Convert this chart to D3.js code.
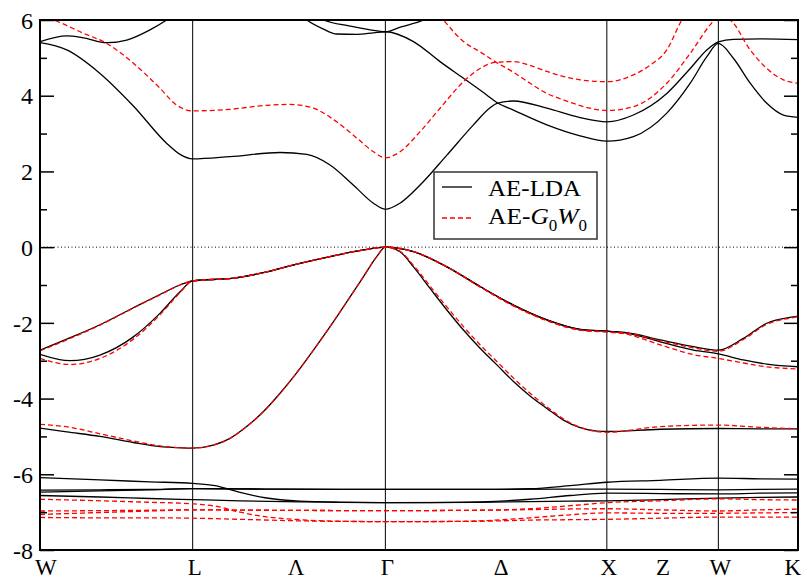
<!DOCTYPE html>
<html><head><meta charset="utf-8">
<script src="https://cdnjs.cloudflare.com/ajax/libs/d3/7.8.5/d3.min.js"></script>
<style>
body{margin:0;background:#fff}
svg{display:block}
</style>
</head><body>
<svg id="c" width="803" height="579"></svg>
<script>
// ---------- data ----------
const symK = [0, 0.690, 1.561, 2.562, 3.066, 3.426];          // W L Γ X W K
const kLabels = ["W", "L", "Λ", "Γ", "Δ", "X", "Z", "W", "K"];
const kLabelPos = [0, 0.690, 1.148, 1.561, 2.075, 2.562, 2.807, 3.066, 3.426];
const yMajor = [-8, -6, -4, -2, 0, 2, 4, 6];
const yMinor = [-7, -5, -3, -1, 1, 3, 5];
const legendLabels = ["AE-LDA", "AE-G0W0"];

// LDA (black) bands: [k, E]
const ldaV1 = [[0,-4.78],[0.121,-4.88],[0.271,-5.0],[0.422,-5.16],[0.542,-5.27],[0.633,-5.30],[0.690,-5.31],
 [0.783,-5.23],[0.859,-5.05],[0.934,-4.74],[1.009,-4.35],[1.085,-3.86],[1.160,-3.32],[1.236,-2.72],[1.311,-2.10],[1.387,-1.44],[1.462,-0.78],[1.522,-0.25],[1.561,0],
 [1.627,-0.12],[1.688,-0.52],[1.763,-1.09],[1.839,-1.66],[1.914,-2.19],[1.989,-2.67],[2.065,-3.11],[2.140,-3.55],[2.215,-3.93],[2.291,-4.26],[2.366,-4.57],[2.441,-4.77],[2.517,-4.86],[2.562,-4.87],
 [2.803,-4.81],[3.066,-4.79],[3.255,-4.80],[3.426,-4.80]];
const ldaV2 = [[0,-2.83],[0.136,-3.0],[0.271,-2.85],[0.422,-2.37],[0.542,-1.75],[0.633,-1.18],[0.690,-0.89],
 [0.874,-0.82],[1.009,-0.675],[1.160,-0.45],[1.311,-0.25],[1.462,-0.075],[1.561,0],
 [1.688,-0.12],[1.839,-0.52],[1.989,-1.04],[2.140,-1.53],[2.291,-1.92],[2.441,-2.17],[2.562,-2.22],
 [2.652,-2.27],[2.803,-2.50],[2.954,-2.72],[3.066,-2.82],[3.179,-2.98],[3.285,-3.09],[3.426,-3.16]];
const ldaV3 = [[0,-2.72],[0.121,-2.43],[0.271,-2.05],[0.422,-1.60],[0.542,-1.25],[0.633,-1.00],[0.690,-0.89],
 [0.874,-0.82],[1.009,-0.675],[1.160,-0.45],[1.311,-0.25],[1.462,-0.075],[1.561,0],
 [1.688,-0.12],[1.839,-0.52],[1.989,-1.04],[2.140,-1.53],[2.291,-1.92],[2.441,-2.17],[2.562,-2.22],
 [2.652,-2.26],[2.803,-2.45],[2.954,-2.63],[3.066,-2.72],[3.179,-2.41],[3.285,-2.01],[3.405,-1.84],[3.426,-1.82]];
const ldaC1 = [[0,5.40],[0.121,5.21],[0.271,4.59],[0.422,3.73],[0.573,2.74],[0.633,2.45],[0.690,2.33],
 [0.859,2.39],[1.085,2.50],[1.206,2.45],[1.311,2.17],[1.416,1.64],[1.507,1.16],[1.561,1.0],
 [1.627,1.16],[1.718,1.64],[1.839,2.43],[1.959,3.23],[2.034,3.68],[2.065,3.80],[2.140,3.86],[2.291,3.67],[2.441,3.42],[2.562,3.31],
 [2.682,3.49],[2.833,4.06],[2.939,4.72],[3.014,5.21],[3.066,5.42],[3.134,5.49],[3.255,5.50],[3.426,5.48]];
const ldaC2 = [[0,5.43],[0.121,5.58],[0.196,5.53],[0.302,5.40],[0.392,5.47],[0.497,5.74],[0.573,6.0],[0.690,6.5],[0.949,6.8],[1.130,6.4],
 [1.206,6.0],[1.281,5.76],[1.341,5.63],[1.432,5.62],[1.507,5.66],[1.561,5.69],
 [1.688,5.43],[1.808,4.90],[1.914,4.46],[2.019,4.02],[2.065,3.82],[2.140,3.62],[2.291,3.23],[2.441,2.94],[2.562,2.80],
 [2.682,2.92],[2.833,3.54],[2.939,4.33],[3.014,5.03],[3.066,5.38],[3.134,4.99],[3.210,4.33],[3.285,3.80],[3.360,3.49],[3.426,3.43]];
const ldaC3 = [[0,7.0],[0.690,7.5],[1.130,6.6],[1.281,6.0],[1.401,5.84],[1.492,5.74],[1.561,5.69],[1.632,5.82],[1.733,6.0],[1.854,6.5],[2.562,7.5],[3.066,7.0],[3.426,7.2]];
const ldaD1 = [[0,-6.09],[0.271,-6.15],[0.497,-6.20],[0.690,-6.24],[0.791,-6.30],[0.904,-6.48],[1.017,-6.62],[1.175,-6.71],[1.356,-6.74],[1.561,-6.75],[1.763,-6.75],[1.989,-6.73],[2.215,-6.66],[2.396,-6.56],[2.562,-6.50],[2.803,-6.51],[3.066,-6.52],[3.255,-6.50],[3.426,-6.49]];
const ldaD2 = [[0,-6.42],[0.271,-6.41],[0.497,-6.40],[0.690,-6.38],[1.017,-6.39],[1.356,-6.40],[1.561,-6.40],[1.989,-6.40],[2.215,-6.38],[2.396,-6.30],[2.562,-6.21],[2.803,-6.16],[3.066,-6.10],[3.255,-6.12],[3.426,-6.13]];
const ldaD3 = [[0,-6.47],[0.271,-6.44],[0.497,-6.41],[0.690,-6.38],[1.017,-6.39],[1.561,-6.40],[1.989,-6.40],[2.562,-6.39],[2.803,-6.40],[3.066,-6.41],[3.255,-6.40],[3.426,-6.39]];
const ldaD4 = [[0,-6.56],[0.271,-6.60],[0.497,-6.64],[0.690,-6.67],[0.904,-6.70],[1.175,-6.73],[1.561,-6.75],[1.989,-6.74],[2.215,-6.72],[2.396,-6.71],[2.562,-6.70],[2.803,-6.67],[3.066,-6.63],[3.255,-6.61],[3.426,-6.60]];

// G0W0 (red dashed) bands: [k, E]
const gwV1 = [[0,-4.68],[0.136,-4.76],[0.271,-4.93],[0.422,-5.12],[0.542,-5.25],[0.633,-5.30],[0.690,-5.31],
 [0.783,-5.23],[0.859,-5.05],[0.934,-4.74],[1.009,-4.35],[1.085,-3.86],[1.160,-3.32],[1.236,-2.72],[1.311,-2.10],[1.387,-1.44],[1.462,-0.78],[1.522,-0.25],[1.561,0],
 [1.627,-0.11],[1.688,-0.48],[1.763,-1.03],[1.839,-1.58],[1.914,-2.10],[1.989,-2.58],[2.065,-3.02],[2.140,-3.46],[2.215,-3.86],[2.291,-4.22],[2.366,-4.54],[2.441,-4.76],[2.517,-4.87],[2.562,-4.89],
 [2.803,-4.74],[3.066,-4.70],[3.255,-4.76],[3.426,-4.80]];
const gwV2 = [[0,-2.94],[0.136,-3.10],[0.271,-2.94],[0.422,-2.43],[0.542,-1.79],[0.633,-1.20],[0.690,-0.89],
 [0.874,-0.82],[1.009,-0.675],[1.160,-0.45],[1.311,-0.25],[1.462,-0.075],[1.561,0],
 [1.688,-0.12],[1.839,-0.52],[1.989,-1.05],[2.140,-1.55],[2.291,-1.94],[2.441,-2.19],[2.562,-2.24],
 [2.652,-2.30],[2.803,-2.58],[2.954,-2.84],[3.066,-2.94],[3.179,-3.06],[3.285,-3.16],[3.426,-3.22]];
const gwV3 = [[0,-2.74],[0.121,-2.45],[0.271,-2.06],[0.422,-1.61],[0.542,-1.26],[0.633,-1.00],[0.690,-0.89],
 [0.874,-0.82],[1.009,-0.675],[1.160,-0.45],[1.311,-0.25],[1.462,-0.075],[1.561,0],
 [1.688,-0.12],[1.839,-0.52],[1.989,-1.05],[2.140,-1.55],[2.291,-1.94],[2.441,-2.19],[2.562,-2.24],
 [2.652,-2.27],[2.803,-2.47],[2.954,-2.66],[3.066,-2.75],[3.179,-2.44],[3.285,-2.04],[3.405,-1.86],[3.426,-1.84]];
const gwC1 = [[0,6.1],[0.060,6.0],[0.196,5.65],[0.302,5.38],[0.422,4.86],[0.542,4.20],[0.618,3.75],[0.690,3.60],
 [0.859,3.64],[1.009,3.74],[1.130,3.77],[1.236,3.67],[1.341,3.31],[1.432,2.88],[1.507,2.52],[1.561,2.36],
 [1.627,2.52],[1.718,3.05],[1.808,3.67],[1.914,4.37],[1.989,4.72],[2.057,4.88],[2.140,4.90],[2.215,4.80],[2.291,4.64],[2.441,4.42],[2.562,4.37],
 [2.682,4.55],[2.758,4.81],[2.833,5.21],[2.901,6.0],[3.066,6.8],[3.255,7.0],[3.426,7.0]];
const gwC2 = [[0,7.0],[0.690,7.5],[1.561,7.2],[1.733,6.6],[1.823,6.0],[1.914,5.43],[1.989,5.16],[2.057,4.90],[2.140,4.62],[2.215,4.33],[2.291,4.06],[2.366,3.89],[2.486,3.67],[2.562,3.61],
 [2.682,3.71],[2.833,4.33],[2.939,5.12],[3.029,5.87],[3.066,6.1],[3.119,6.0],[3.210,5.21],[3.285,4.72],[3.360,4.42],[3.426,4.33]];
const gwD1 = [[0,-6.66],[0.271,-6.70],[0.497,-6.74],[0.690,-6.78],[0.791,-6.84],[0.904,-7.00],[1.017,-7.12],[1.175,-7.20],[1.356,-7.24],[1.561,-7.25],[1.763,-7.25],[1.989,-7.23],[2.215,-7.15],[2.396,-7.07],[2.562,-7.02],[2.803,-7.03],[3.066,-7.03],[3.255,-7.02],[3.426,-7.01]];
const gwD2 = [[0,-6.97],[0.271,-6.96],[0.497,-6.95],[0.690,-6.94],[1.017,-6.95],[1.561,-6.96],[1.989,-6.95],[2.215,-6.91],[2.396,-6.83],[2.562,-6.75],[2.803,-6.70],[3.066,-6.65],[3.255,-6.67],[3.426,-6.68]];
const gwD3 = [[0,-7.06],[0.271,-7.01],[0.497,-6.97],[0.690,-6.94],[1.017,-6.95],[1.561,-6.96],[1.989,-6.95],[2.562,-6.91],[2.803,-6.94],[3.066,-6.97],[3.255,-6.94],[3.426,-6.92]];
const gwD4 = [[0,-7.14],[0.271,-7.15],[0.497,-7.15],[0.690,-7.16],[0.904,-7.19],[1.175,-7.23],[1.561,-7.25],[1.989,-7.24],[2.215,-7.21],[2.396,-7.20],[2.562,-7.19],[2.803,-7.16],[3.066,-7.13],[3.255,-7.13],[3.426,-7.13]];

const ldaBands = [ldaV1, ldaV2, ldaV3, ldaC1, ldaC2, ldaC3, ldaD1, ldaD2, ldaD3, ldaD4];
const gwBands = [gwV1, gwV2, gwV3, gwC1, gwC2, gwD1, gwD2, gwD3, gwD4];

// ---------- drawing ----------
const FONT = "'Liberation Serif', 'Times New Roman', Times, 'DejaVu Serif', serif";
const svg = d3.select("#c");
const L = 40, R = 798, T = 20, B = 550;
const x = d3.scaleLinear().domain([0, 3.426]).range([L, R]);
const y = d3.scaleLinear().domain([-8, 6]).range([B, T]);

svg.append("defs").append("clipPath").attr("id", "clip")
  .append("rect").attr("x", L).attr("y", T).attr("width", R - L).attr("height", B - T);

// high-symmetry vertical lines
svg.append("g").selectAll("line").data(symK.slice(1, -1)).join("line")
  .attr("x1", d => x(d)).attr("x2", d => x(d)).attr("y1", T).attr("y2", B)
  .attr("stroke", "#000").attr("stroke-width", 1);

// Fermi level dotted line
svg.append("line").attr("x1", L).attr("x2", R).attr("y1", y(0)).attr("y2", y(0))
  .attr("stroke", "#000").attr("stroke-width", 1).attr("stroke-dasharray", "1,2.5");

const line = d3.line().x(d => x(d[0])).y(d => y(d[1])).curve(d3.curveMonotoneX);
const plot = svg.append("g").attr("clip-path", "url(#clip)");
plot.selectAll("path.lda").data(ldaBands).join("path").attr("class", "lda")
  .attr("d", line).attr("fill", "none").attr("stroke", "#000").attr("stroke-width", 1.3);
plot.selectAll("path.gw").data(gwBands).join("path").attr("class", "gw")
  .attr("d", line).attr("fill", "none").attr("stroke", "#ff0000").attr("stroke-width", 1.3)
  .attr("stroke-dasharray", "5,3");

// axes (ticks inside)
const gL = svg.append("g").attr("transform", `translate(${L},0)`)
  .call(d3.axisLeft(y).tickValues(yMajor).tickSize(-14).tickPadding(7).tickFormat(d3.format("d")));
const gLm = svg.append("g").attr("transform", `translate(${L},0)`)
  .call(d3.axisLeft(y).tickValues(yMinor).tickSize(-7).tickFormat(""));
const gR = svg.append("g").attr("transform", `translate(${R},0)`)
  .call(d3.axisRight(y).tickValues(yMajor).tickSize(-14).tickFormat(""));
const gRm = svg.append("g").attr("transform", `translate(${R},0)`)
  .call(d3.axisRight(y).tickValues(yMinor).tickSize(-7).tickFormat(""));
[gL, gLm, gR, gRm].forEach(g => {
  g.attr("font-family", FONT);
  g.select(".domain").remove();
  g.selectAll(".tick line").attr("stroke", "#000").attr("stroke-width", 1.5);
});
gL.selectAll(".tick text").attr("font-size", 24).attr("font-family", FONT)
  .attr("fill", "#000").attr("dy", "0.34em")
  .text(d => d < 0 ? "-" + Math.abs(d) : d);

// frame
svg.append("rect").attr("x", L).attr("y", T).attr("width", R - L).attr("height", B - T)
  .attr("fill", "none").attr("stroke", "#000").attr("stroke-width", 2);

// k-point labels
svg.append("g").selectAll("text").data(kLabels).join("text")
  .attr("x", (d, i) => x(kLabelPos[i]) + (i === 0 ? -5 : i === kLabels.length - 1 ? 3 : 2))
  .attr("y", 575)
  .attr("text-anchor", (d, i) => i === 0 ? "start" : i === kLabels.length - 1 ? "end" : "middle")
  .attr("font-family", FONT)
  .attr("font-size", 23)
  .text(d => d);

// legend
const lg = svg.append("g").attr("font-family", FONT);
lg.append("rect").attr("x", 434).attr("y", 172).attr("width", 163).attr("height", 67)
  .attr("fill", "#fff").attr("stroke", "#333").attr("stroke-width", 1.5);
lg.append("line").attr("x1", 442).attr("x2", 472).attr("y1", 187).attr("y2", 187)
  .attr("stroke", "#000").attr("stroke-width", 1.3);
lg.append("line").attr("x1", 442).attr("x2", 472).attr("y1", 218).attr("y2", 218)
  .attr("stroke", "#ff0000").attr("stroke-width", 1.3).attr("stroke-dasharray", "5,3");
lg.append("text").attr("x", 488).attr("y", 196).attr("font-size", 24)
  .attr("font-family", FONT).attr("textLength", 93).attr("lengthAdjust", "spacingAndGlyphs")
  .text(legendLabels[0]);
const t2 = lg.append("text").attr("x", 488).attr("y", 224).attr("font-size", 24).attr("font-family", FONT)
  .attr("textLength", 99).attr("lengthAdjust", "spacingAndGlyphs");
t2.append("tspan").text("AE-");
t2.append("tspan").attr("font-style", "italic").text("G");
t2.append("tspan").attr("font-size", 16).attr("dy", 7).text("0");
t2.append("tspan").attr("font-style", "italic").attr("dy", -7).text("W");
t2.append("tspan").attr("font-size", 16).attr("dy", 7).text("0");
</script>
</body></html>
